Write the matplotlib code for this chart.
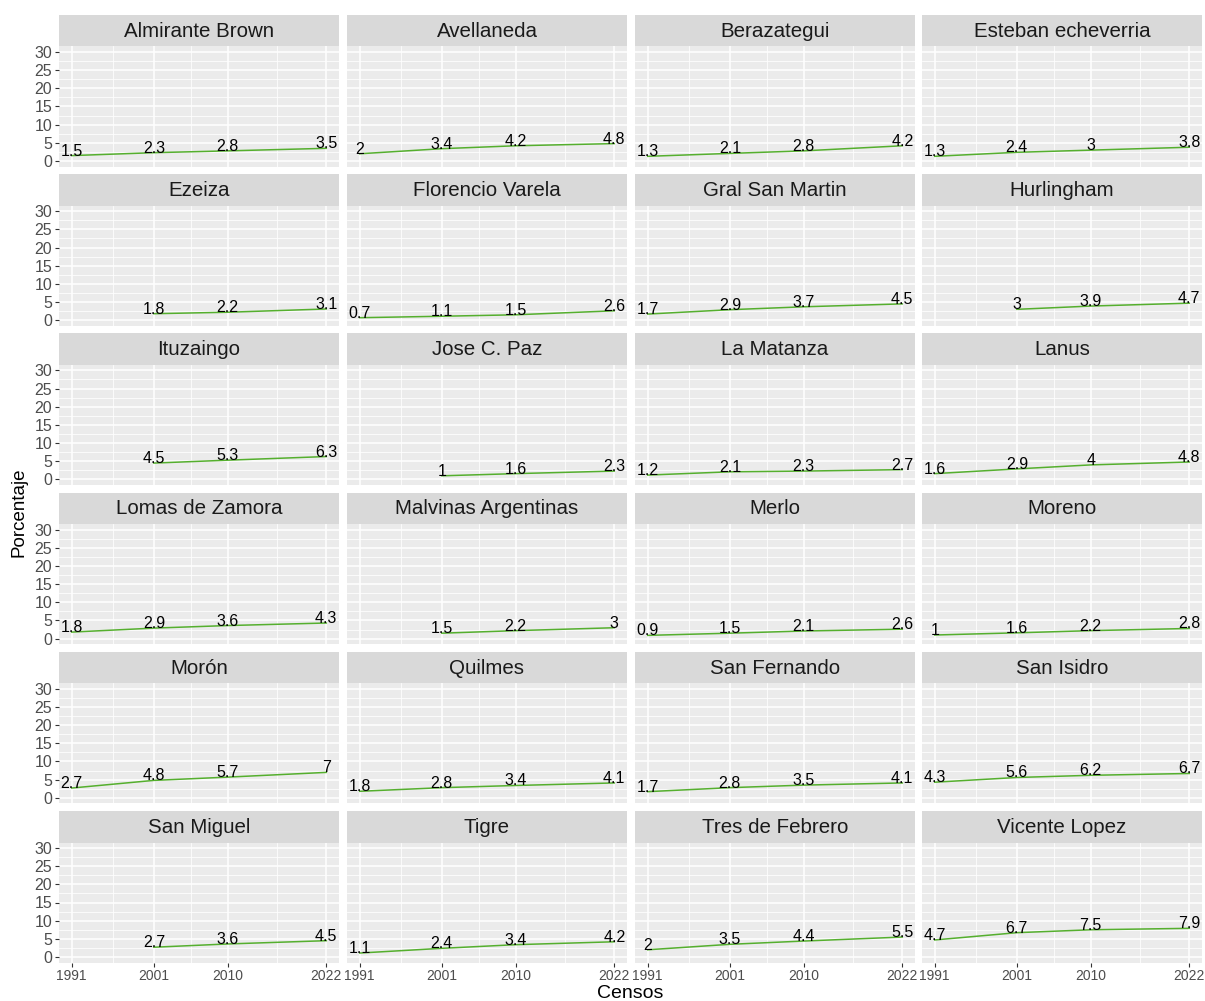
import matplotlib
matplotlib.use("Agg")
import matplotlib.pyplot as plt
import numpy as np

# -------------------------------------------------
# Datos
# -------------------------------------------------

censos = [1991, 2001, 2010, 2022]

partidos = [
    "Almirante Brown", "Avellaneda", "Berazategui", "Esteban echeverria",
    "Ezeiza", "Florencio Varela", "Gral San Martin", "Hurlingham",
    "Ituzaingo", "Jose C. Paz", "La Matanza", "Lanus",
    "Lomas de Zamora", "Malvinas Argentinas", "Merlo", "Moreno",
    "Morón", "Quilmes", "San Fernando", "San Isidro",
    "San Miguel", "Tigre", "Tres de Febrero", "Vicente Lopez",
]

nan = np.nan
almirante_brown = [1.5, 2.3, 2.8, 3.5]
avellaneda = [2, 3.4, 4.2, 4.8]
berazategui = [1.3, 2.1, 2.8, 4.2]
esteban_echeverria = [1.3, 2.4, 3, 3.8]
ezeiza = [nan, 1.8, 2.2, 3.1]
florencio_varela = [0.7, 1.1, 1.5, 2.6]
gral_san_martin = [1.7, 2.9, 3.7, 4.5]
hurlingham = [nan, 3, 3.9, 4.7]
ituzaingo = [nan, 4.5, 5.3, 6.3]
jose_c_paz = [nan, 1, 1.6, 2.3]
la_matanza = [1.2, 2.1, 2.3, 2.7]
lanus = [1.6, 2.9, 4, 4.8]
lomas_de_zamora = [1.8, 2.9, 3.6, 4.3]
malvinas_argentinas = [nan, 1.5, 2.2, 3]
merlo = [0.9, 1.5, 2.1, 2.6]
moreno = [1, 1.6, 2.2, 2.8]
moron = [2.7, 4.8, 5.7, 7]
quilmes = [1.8, 2.8, 3.4, 4.1]
san_fernando = [1.7, 2.8, 3.5, 4.1]
san_isidro = [4.3, 5.6, 6.2, 6.7]
san_miguel = [nan, 2.7, 3.6, 4.5]
tigre = [1.1, 2.4, 3.4, 4.2]
tres_de_febrero = [2, 3.5, 4.4, 5.5]
vicente_lopez = [4.7, 6.7, 7.5, 7.9]

valores = [
    almirante_brown, avellaneda, berazategui, esteban_echeverria,
    ezeiza, florencio_varela, gral_san_martin, hurlingham,
    ituzaingo, jose_c_paz, la_matanza, lanus,
    lomas_de_zamora, malvinas_argentinas, merlo, moreno,
    moron, quilmes, san_fernando, san_isidro,
    san_miguel, tigre, tres_de_febrero, vicente_lopez,
]

y_ticks = [0, 5, 10, 15, 20, 25, 30]

# -------------------------------------------------
# Estilo
# -------------------------------------------------

plt.rcParams["font.family"] = ["Liberation Sans", "DejaVu Sans"]

W, H = 1205, 1001
fig = plt.figure(figsize=(W / 100, H / 100), dpi=100)

line_color = "#55AF2E"
panel_bg = "#EBEBEB"
strip_bg = "#D9D9D9"

col_x = [59, 347, 635, 922]
panel_w = 280
row_pitch = 159.2
strip_top0 = 15
strip_h = 31.5
panel_h = 120

def frac(x, y, w, h):
    return [x / W, 1 - (y + h) / H, w / W, h / H]

for i, (nombre, vals) in enumerate(zip(partidos, valores)):
    r, c = divmod(i, 4)
    top = strip_top0 + r * row_pitch
    x0 = col_x[c]

    # strip
    sax = fig.add_axes(frac(x0, top, panel_w, strip_h))
    sax.set_facecolor(strip_bg)
    sax.set_xticks([])
    sax.set_yticks([])
    for sp in sax.spines.values():
        sp.set_visible(False)
    sax.text(0.5, 0.48, nombre, ha="center", va="center", fontsize=14.8,
             color="#1A1A1A", transform=sax.transAxes)

    # panel
    ax = fig.add_axes(frac(x0, top + strip_h, panel_w, panel_h))
    ax.set_facecolor(panel_bg)
    for sp in ax.spines.values():
        sp.set_visible(False)

    ax.set_xlim(1989.45, 2023.55)
    ax.set_ylim(-1.5, 31.5)
    ax.set_xticks(censos)
    ax.set_xticks([1996, 2005.5, 2016], minor=True)
    ax.set_yticks(y_ticks)
    ax.set_yticks(np.arange(2.5, 30, 5), minor=True)
    ax.grid(which="major", color="white", linewidth=1.1)
    ax.grid(which="minor", color="white", linewidth=0.55)
    ax.set_axisbelow(True)

    ax.tick_params(which="major", direction="out", length=3, width=0.8,
                   color="#333333", labelcolor="#4D4D4D", pad=2)
    ax.tick_params(axis="y", which="major", labelsize=11.5)
    ax.tick_params(axis="x", which="major", labelsize=10)
    ax.tick_params(which="minor", length=0)

    if c == 0:
        ax.set_yticklabels([str(t) for t in y_ticks])
    else:
        ax.tick_params(axis="y", which="major", length=0, labelleft=False)
    if r == 5:
        ax.set_xticklabels([str(t) for t in censos])
    else:
        ax.tick_params(axis="x", which="major", length=0, labelbottom=False)

    v = np.array(vals, dtype=float)
    ok = ~np.isnan(v)
    ax.plot(np.array(censos)[ok], v[ok], color=line_color, linewidth=1.1)
    for x, y in zip(np.array(censos)[ok], v[ok]):
        ax.text(x, y, f"{y:g}", ha="center", va="baseline", fontsize=11.5,
                color="black", clip_on=False)

fig.text(630 / W, 1 - 993 / H, "Censos", ha="center", va="center",
         fontsize=14, color="black")
fig.text(19 / W, 1 - 512 / H, "Porcentaje", ha="center", va="center",
         rotation=90, fontsize=13.5, color="black")

plt.savefig("out.png", dpi=100)
